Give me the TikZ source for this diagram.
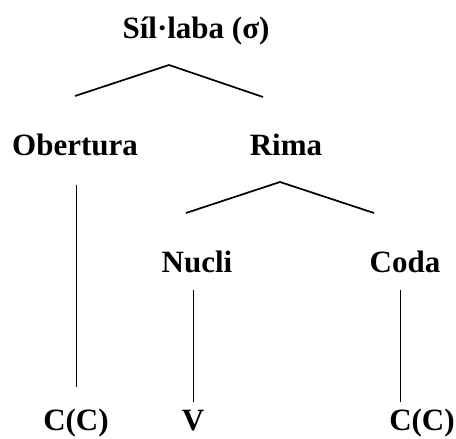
\documentclass[tikz,border=0pt]{standalone}
\usepackage{fontspec}
\setmainfont{Liberation Serif}
\begin{document}
\begin{tikzpicture}[x=1pt,y=-1pt,
    lbl/.style={anchor=base,inner sep=0pt,font=\fontsize{31}{36}\selectfont\bfseries},
    branch/.style={line width=1.7pt},
    stem/.style={line width=0.9pt}]
  \useasboundingbox (0,0) rectangle (456,439);
  \node[lbl] (sillaba) at (196,38) {Síl·laba (σ)};
  \node[lbl] (obertura) at (75,155) {Obertura};
  \node[lbl] (rima) at (286,155) {Rima};
  \node[lbl] (nucli) at (197,272) {Nucli};
  \node[lbl] (coda) at (405,272) {Coda};
  \node[lbl] (cons1) at (76,430) {C(C)};
  \node[lbl] (vocal) at (193,430) {V};
  \node[lbl] (cons2) at (422,430) {C(C)};
  \coordinate (sapex) at (169,65);
  \coordinate (sleft) at (75,96);
  \coordinate (sright) at (263,97);
  \coordinate (rapex) at (280,182);
  \coordinate (rleft) at (186,213);
  \coordinate (rright) at (374,213);
  \draw[branch] (sleft) -- (sapex) -- (sright);
  \draw[branch] (rleft) -- (rapex) -- (rright);
  \draw[stem] (obertura.south -| cons1) ++(0,29) coordinate (otop) -- (otop |- 0,387);
  \draw[stem] (nucli.south -| vocal) ++(0,17) coordinate (ntop) -- (ntop |- 0,402);
  \draw[stem] (coda.south -| 400,0) ++(0,17) coordinate (ctop) -- (ctop |- 0,402);
\end{tikzpicture}
\end{document}
